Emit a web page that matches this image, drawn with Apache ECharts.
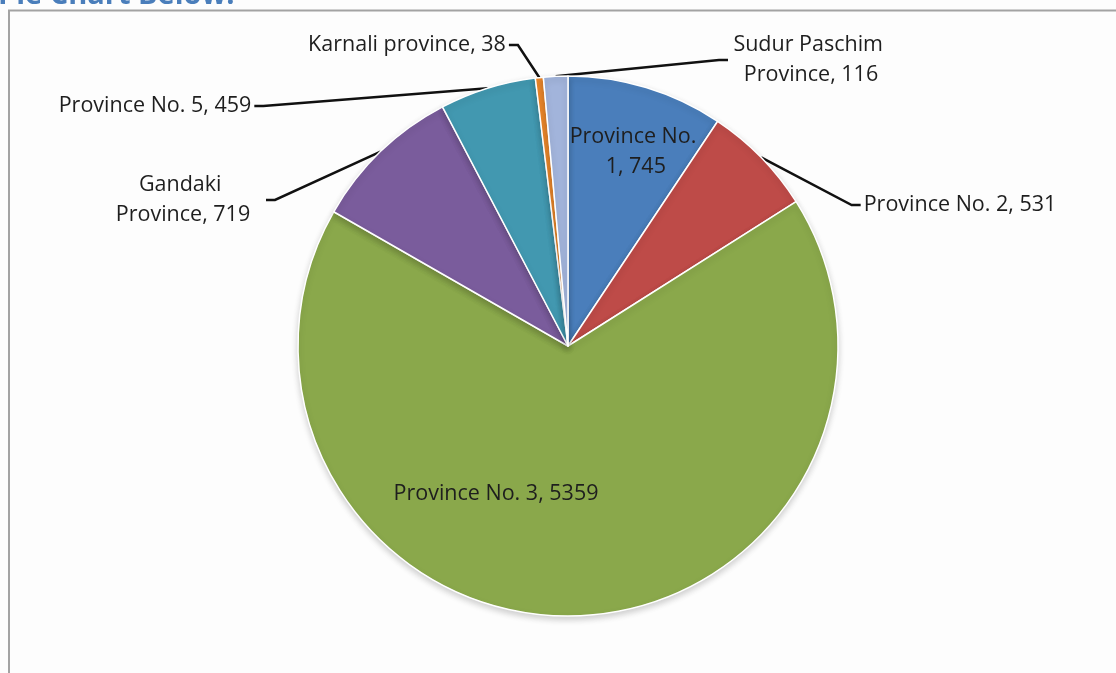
<!DOCTYPE html>
<html>
<head>
<meta charset="utf-8">
<script src="https://cdn.jsdelivr.net/npm/echarts@6/dist/echarts.min.js"></script>
<style>
html,body{margin:0;padding:0;background:#fdfdfd;}
#c{width:1116px;height:673px;}
</style>
</head>
<body>
<div id="c"></div>
<script>
const categories = ['Province No. 1', 'Province No. 2', 'Province No. 3', 'Gandaki Province', 'Province No. 5', 'Karnali province', 'Sudur Paschim Province'];
const values = [745, 531, 5359, 719, 459, 38, 116];
const colors = ['#4a7ebb', '#be4b48', '#8aa84b', '#7a5c9c', '#4298b0', '#f08a2c', '#a2b4db'];

// label placement (layout only); wrap = width for wrapped labels
const labelPos = [
  {x: 633, y: 152, wrap: 132},
  {x: 960, y: 205},
  {x: 496, y: 494},
  {x: 183, y: 200, wrap: 160},
  {x: 155, y: 106},
  {x: 407, y: 45},
  {x: 811, y: 60, wrap: 160}
];
const insideIdx = [0, 2];

const chart = echarts.init(document.getElementById('c'));
const data = categories.map((n, i) => {
  const lab = {align: 'center'};
  if (labelPos[i].wrap) { lab.width = labelPos[i].wrap; lab.overflow = 'break'; }
  return {
    name: n,
    value: values[i],
    itemStyle: {color: colors[i]},
    label: lab,
    labelLine: {show: insideIdx.indexOf(i) < 0}
  };
});

chart.setOption({
  backgroundColor: '#fdfdfd',
  animation: false,
  graphic: [
    {type: 'rect', shape: {x: 9, y: 10.5, width: 1300, height: 800}, style: {fill: 'none', stroke: '#a3a3a3', lineWidth: 2}, silent: true},
    {type: 'text', left: -2, top: -19, style: {text: 'Pie Chart Below:', fill: '#4a7ebb', font: 'bold 29px "Open Sans", sans-serif'}, silent: true}
  ],
  series: [{
    type: 'pie',
    center: [568, 346],
    radius: 270,
    startAngle: 90,
    clockwise: true,
    avoidLabelOverlap: false,
    itemStyle: {borderColor: '#ffffff', borderWidth: 1.5, shadowBlur: 6, shadowColor: 'rgba(0,0,0,0.18)', shadowOffsetY: 3},
    label: {
      show: true,
      position: 'outside',
      formatter: '{b}, {c}',
      color: '#1e1e1e',
      fontFamily: 'Open Sans',
      fontSize: 21.5,
      lineHeight: 30,
      padding: [0, 3]
    },
    labelLine: {show: true, length: 15, length2: 9, minTurnAngle: 90, maxSurfaceAngle: 180, lineStyle: {color: '#111', width: 2.5}},
    emphasis: {disabled: true},
    labelLayout: function (p) {
      const pos = labelPos[p.dataIndex];
      return {x: pos.x, y: pos.y, align: 'center', verticalAlign: 'middle'};
    },
    data: data
  }]
});
</script>
</body>
</html>
